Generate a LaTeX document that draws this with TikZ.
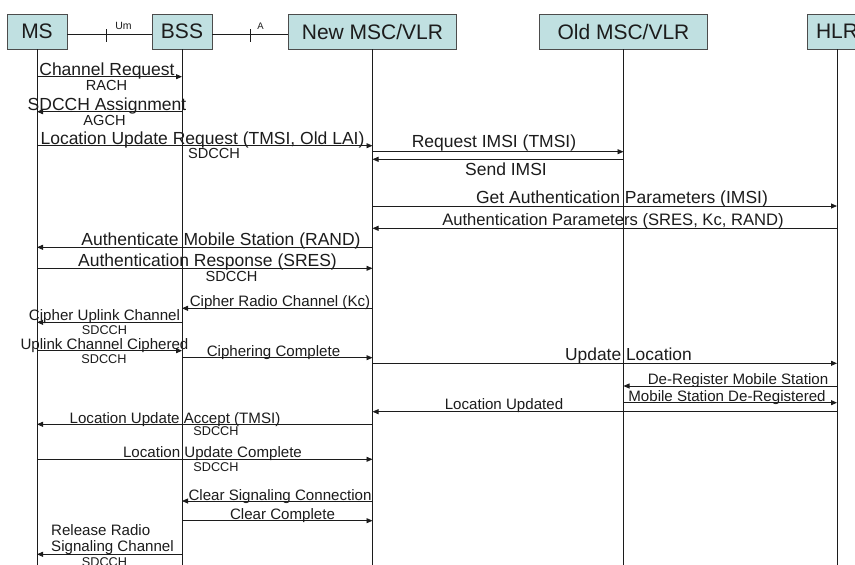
\documentclass[tikz,border=0pt]{standalone}
\usepackage{fontspec}
\setmainfont{Liberation Sans}
\usetikzlibrary{arrows.meta}
\definecolor{boxfill}{RGB}{192,224,225}
\definecolor{inkgray}{RGB}{28,28,28}
\tikzset{
  entity/.style={draw=black!70, fill=boxfill, minimum height=35pt, inner sep=0pt, text=inkgray, font=\fontsize{21}{24}\selectfont},
  lifeline/.style={draw=inkgray, line width=0.8pt},
  msg/.style={draw=inkgray, line width=0.8pt, -{Triangle[length=6pt,width=5pt]}},
  biglbl/.style={anchor=base, inner sep=0pt, text=inkgray, font=\fontsize{17.5}{20}\selectfont},
  lbl/.style={anchor=base, inner sep=0pt, text=inkgray, font=\fontsize{15.1}{17}\selectfont},
  chanlbl/.style={anchor=base, inner sep=0pt, text=inkgray, font=\fontsize{14.6}{16}\selectfont},
  smallchan/.style={anchor=base, inner sep=0pt, text=inkgray, font=\fontsize{12.7}{14}\selectfont},
  iflbl/.style={inner sep=0pt, text=inkgray, font=\fontsize{10.5}{12}\selectfont}
}
\begin{document}
\begin{tikzpicture}[x=1pt,y=-1pt]
\useasboundingbox (0,0) rectangle (855,565);
\clip (0,0) rectangle (855,565);
\fill[white] (0,0) rectangle (855,565);
% Drawing entities
\node[entity, minimum width=60pt] (ms) at (37,31.5) {MS};
\node[entity, minimum width=60pt] (bss) at (182,31.5) {BSS};
\node[entity, minimum width=168pt] (newmsc) at (372.5,31.5) {New MSC/VLR};
\node[entity, minimum width=168pt] (oldmsc) at (623.5,31.5) {Old MSC/VLR};
\node[entity, minimum width=60pt] (hlr) at (837,31.5) {HLR};
% Interfaces Um and A
\draw[lifeline] ([yshift=-2.8pt]ms.east) -- ([yshift=-2.8pt]bss.west);
\draw[lifeline] ([yshift=-2.8pt]bss.east) -- ([yshift=-2.8pt]newmsc.west);
\coordinate (umtick) at (106,34.3);
\coordinate (atick) at (250,34.3);
\draw[lifeline] ([yshift=5.3pt]umtick) -- ([yshift=-7.7pt]umtick);
\draw[lifeline] ([yshift=5.3pt]atick) -- ([yshift=-7.7pt]atick);
\node[iflbl] (um) at (123.5,25.5) {Um};
\node[iflbl, font=\fontsize{9.5}{11}\selectfont] (aif) at (260.5,26) {A};
% Done with entities; drawing lifelines
\coordinate (msend) at (ms |- 0,565);
\coordinate (bssend) at (bss |- 0,565);
\coordinate (newmscend) at (newmsc |- 0,565);
\coordinate (oldmscend) at (oldmsc |- 0,565);
\coordinate (hlrend) at (hlr |- 0,565);
\draw[lifeline] (ms.south) -- (msend);
\draw[lifeline] (bss.south) -- (bssend);
\draw[lifeline] (newmsc.south) -- (newmscend);
\draw[lifeline] (oldmsc.south) -- (oldmscend);
\draw[lifeline] (hlr.south) -- (hlrend);
% Done with lifelines; drawing messages
% Message 1-2: channel request and assignment
\draw[msg] (ms |- 0,76.7) -- (bss |- 0,76.7);
\node[biglbl] (m1) at (107,75.5) {Channel Request};
\node[chanlbl] (c1) at (106.5,90) {RACH};
\draw[msg] (bss |- 0,111.7) -- (ms |- 0,111.7);
\node[biglbl] (m2) at (107,110.5) {SDCCH Assignment};
\node[chanlbl] (c2) at (104.5,125) {AGCH};
% Message 3-5: location update request, IMSI
\draw[msg] (ms |- 0,145.7) -- (newmsc |- 0,145.7);
\node[biglbl] (m3) at (202.5,144) {Location Update Request (TMSI, Old LAI)};
\node[chanlbl] (c3) at (214,158.5) {SDCCH};
\draw[msg] (newmsc |- 0,151.7) -- (oldmsc |- 0,151.7);
\node[biglbl] (m4) at (494,147.5) {Request IMSI (TMSI)};
\draw[msg] (oldmsc |- 0,159.3) -- (newmsc |- 0,159.3);
\node[biglbl] (m5) at (506,175.5) {Send IMSI};
% Message 6-9: authentication
\draw[msg] (newmsc |- 0,206) -- (hlr |- 0,206);
\node[biglbl] (m6) at (622,203.5) {Get Authentication Parameters (IMSI)};
\draw[msg] (hlr |- 0,228.3) -- (newmsc |- 0,228.3);
\node[biglbl, font=\fontsize{16.6}{19}\selectfont] (m7) at (613,225.5) {Authentication Parameters (SRES, Kc, RAND)};
\draw[msg] (newmsc |- 0,247.3) -- (ms |- 0,247.3);
\node[biglbl] (m8) at (221,245.5) {Authenticate Mobile Station (RAND)};
\draw[msg] (ms |- 0,268.3) -- (newmsc |- 0,268.3);
\node[biglbl] (m9) at (207.5,266.5) {Authentication Response (SRES)};
\node[chanlbl] (c9) at (231.5,281.5) {SDCCH};
% Message 10-13: ciphering
\draw[msg] (newmsc |- 0,308.3) -- (bss |- 0,308.3);
\node[lbl] (m10) at (280,306) {Cipher Radio Channel (Kc)};
\draw[msg] (bss |- 0,322.3) -- (ms |- 0,322.3);
\node[lbl] (m11) at (104.5,320.8) {Cipher Uplink Channel};
\node[smallchan] (c11) at (104.5,334) {SDCCH};
\draw[msg] (ms |- 0,350.7) -- (bss |- 0,350.7);
\node[lbl] (m12) at (104.5,349) {Uplink Channel Ciphered};
\node[smallchan] (c12) at (104,363) {SDCCH};
\draw[msg] (bss |- 0,357.7) -- (newmsc |- 0,357.7);
\node[lbl] (m13) at (273.5,356.8) {Ciphering Complete};
% Message 14-17: update location at HLR
\draw[msg] (newmsc |- 0,363.3) -- (hlr |- 0,363.3);
\node[biglbl, font=\fontsize{17.4}{20}\selectfont] (m14) at (628.5,360.8) {Update Location};
\draw[msg] (hlr |- 0,386) -- (oldmsc |- 0,386);
\node[lbl] (m15) at (738,384.1) {De-Register Mobile Station};
\draw[msg] (oldmsc |- 0,402.7) -- (hlr |- 0,402.7);
\node[lbl] (m16) at (727,401.8) {Mobile Station De-Registered};
\draw[msg] (hlr |- 0,411.7) -- (newmsc |- 0,411.7);
\node[lbl] (m17) at (504,409) {Location Updated};
% Message 18-19: location update accept and complete
\draw[msg] (newmsc |- 0,424.3) -- (ms |- 0,424.3);
\node[lbl] (m18) at (175,423.5) {Location Update Accept (TMSI)};
\node[smallchan] (c18) at (216,435) {SDCCH};
\draw[msg] (ms |- 0,459.3) -- (newmsc |- 0,459.3);
\node[lbl] (m19) at (212.5,457.5) {Location Update Complete};
\node[smallchan] (c19) at (216,471) {SDCCH};
% Message 20-22: release
\draw[msg] (newmsc |- 0,501) -- (bss |- 0,501);
\node[lbl] (m20) at (280,500) {Clear Signaling Connection};
\draw[msg] (bss |- 0,520.7) -- (newmsc |- 0,520.7);
\node[lbl] (m21) at (282.5,519) {Clear Complete};
\draw[msg] (bss |- 0,554.3) -- (ms |- 0,554.3);
\node[lbl, anchor=base west] (m22a) at (51,535.8) {Release Radio};
\node[lbl, anchor=base west] (m22b) at (51,551.5) {Signaling Channel};
\node[smallchan] (c22) at (104.5,566) {SDCCH};
% Done with messages
\end{tikzpicture}
\end{document}
